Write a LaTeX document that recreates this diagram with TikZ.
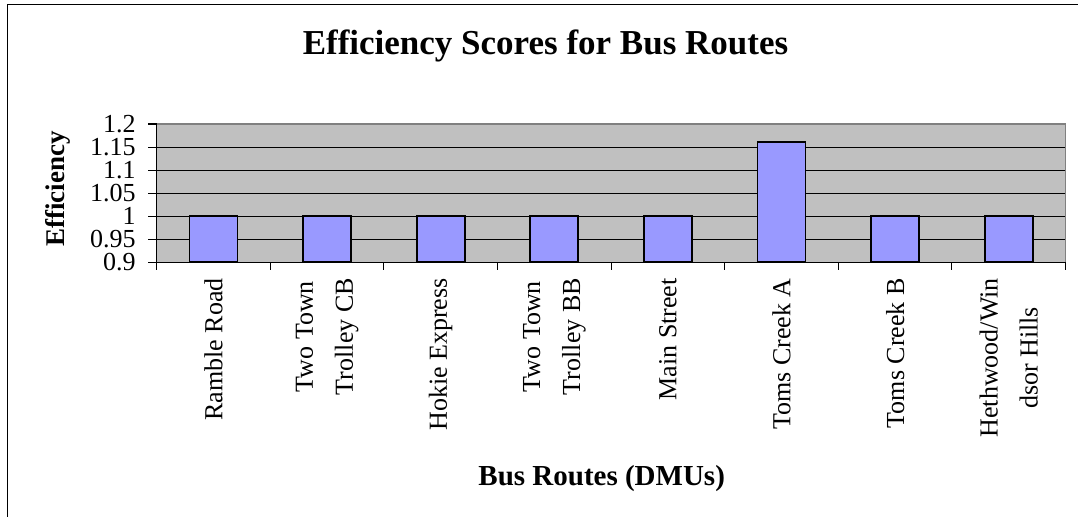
\documentclass[tikz,border=0pt]{standalone}
\usepackage{fontspec}
\setmainfont{Liberation Serif}
\definecolor{plotgray}{HTML}{C0C0C0}
\definecolor{barblue}{HTML}{9999FF}
\definecolor{edgegray}{HTML}{808080}

\begin{document}
\begin{tikzpicture}[x=0.75pt, y=-0.75pt,
                    tick label/.style={anchor=east, inner sep=0pt, font=\fontsize{19.5}{23}\selectfont},
                    cat label/.style={rotate=90, anchor=east, inner sep=0pt, align=center, font=\fontsize{19.5}{30}\selectfont},
                    bar box/.style={draw=black, line width=1.4pt, fill=barblue},
                    axis title/.style={inner sep=0pt, font=\fontsize{21.75}{25}\selectfont\bfseries}]

\useasboundingbox (0,0) rectangle (1078,517);

% outer frame
\draw[line width=0.9pt] (7.3,520) -- (7.3,4.7) -- (1080,4.7);

\node[inner sep=0pt, anchor=base, font=\fontsize{26.25}{30}\selectfont\bfseries] (title) at (545.5,54.3) {Efficiency Scores for Bus Routes};

% plot area
\fill[plotgray] (156.7,124) rectangle (1065.7,262.3);
\draw[line width=0.6pt]
    (148,239.25) -- (1065.7,239.25)
    (148,216.2) -- (1065.7,216.2)
    (148,193.15) -- (1065.7,193.15)
    (148,170.1) -- (1065.7,170.1)
    (148,147.05) -- (1065.7,147.05);
\draw[edgegray, line width=1.1pt] (156.7,124) -- (1065.7,124) -- (1065.7,262.3);
\draw[line width=0.8pt] (148,124) -- (156.7,124) -- (156.7,270) (148,262.3) -- (1066,262.3);

\node[tick label] (y1) at (136,124) {1.2};
\node[tick label] (y2) at (136,147.05) {1.15};
\node[tick label] (y3) at (136,170.1) {1.1};
\node[tick label] (y4) at (136,193.15) {1.05};
\node[tick label] (y5) at (136,216.2) {1};
\node[tick label] (y6) at (136,239.25) {0.95};
\node[tick label] (y7) at (136,262.3) {0.9};

\node[axis title, rotate=90, font=\fontsize{20.25}{25}\selectfont\bfseries] (ytitle) at (58,189) {Efficiency};

% bars
\draw[bar box] (189.5,262.3) rectangle (237.5,216.2);
\draw[bar box] (303.1,262.3) rectangle (351.1,216.2);
\draw[bar box] (416.7,262.3) rectangle (464.7,216.2);
\draw[bar box] (530.3,262.3) rectangle (578.3,216.2);
\draw[bar box] (643.9,262.3) rectangle (691.9,216.2);
\draw[bar box] (757.5,262.3) rectangle (805.5,141.7);
\draw[bar box] (871.1,262.3) rectangle (919.1,216.2);
\draw[bar box] (984.7,262.3) rectangle (1032.7,216.2);

% category ticks
\draw[line width=0.8pt]
    (270.3,262.3) -- (270.3,270)
    (383.9,262.3) -- (383.9,270)
    (497.5,262.3) -- (497.5,270)
    (611.1,262.3) -- (611.1,270)
    (724.7,262.3) -- (724.7,270)
    (838.3,262.3) -- (838.3,270)
    (951.9,262.3) -- (951.9,270)
    (1065.5,262.3) -- (1065.5,270);

\node[cat label] (c1) at (213.5,278) {Ramble Road};
\node[cat label] (c2) at (327.1,278) {Two Town\\Trolley CB};
\node[cat label] (c3) at (440.7,278) {Hokie Express};
\node[cat label] (c4) at (554.3,278) {Two Town\\Trolley BB};
\node[cat label] (c5) at (667.9,278) {Main Street};
\node[cat label] (c6) at (781.5,278) {Toms Creek A};
\node[cat label] (c7) at (895.1,278) {Toms Creek B};
\node[cat label] (c8) at (1008.7,278) {Hethwood/Win\\dsor Hills};

\node[axis title, anchor=base] (xtitle) at (601.7,485) {Bus Routes (DMUs)};

\end{tikzpicture}
\end{document}
